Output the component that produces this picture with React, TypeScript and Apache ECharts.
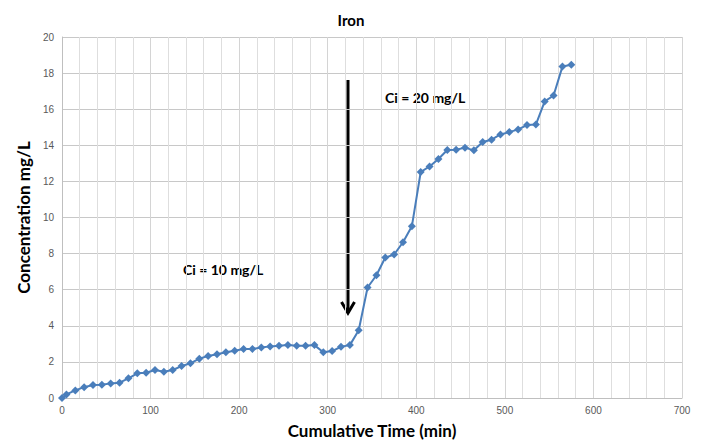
import React, { useEffect, useRef } from "react";
import * as echarts from "echarts";

const times = [0, 5, 15, 25, 35, 45, 55, 65, 75, 85, 95, 105, 115, 125, 135, 145, 155, 165, 175, 185, 195, 205, 215, 225, 235, 245, 255, 265, 275, 285, 295, 305, 315, 325, 335, 345, 355, 365, 375, 385, 395, 405, 415, 425, 435, 445, 455, 465, 475, 485, 495, 505, 515, 525, 535, 545, 555, 565, 575];
const concentration = [0, 0.2, 0.42, 0.6, 0.72, 0.74, 0.81, 0.85, 1.09, 1.37, 1.4, 1.55, 1.46, 1.55, 1.77, 1.92, 2.18, 2.33, 2.42, 2.53, 2.62, 2.72, 2.72, 2.8, 2.86, 2.89, 2.93, 2.89, 2.89, 2.93, 2.53, 2.6, 2.84, 2.93, 3.75, 6.12, 6.8, 7.78, 7.95, 8.63, 9.51, 12.52, 12.83, 13.24, 13.74, 13.75, 13.87, 13.72, 14.18, 14.31, 14.6, 14.73, 14.88, 15.12, 15.15, 16.43, 16.76, 18.36, 18.46];
const xTicks = [0, 100, 200, 300, 400, 500, 600, 700];
const yTicks = [0, 2, 4, 6, 8, 10, 12, 14, 16, 18, 20];
const annotations = ["Ci = 10 mg/L", "Ci = 20 mg/L"];

export default function App() {
  const ref = useRef<HTMLDivElement>(null);
  useEffect(() => {
    if (!ref.current) return;
    const chart = echarts.init(ref.current, undefined, { renderer: "svg" });
    const labelFont = "Liberation Sans, Arial, sans-serif";
    const boldFont = "Lato, 'Open Sans', sans-serif";
    chart.setOption({
      animation: false,
      backgroundColor: "#ffffff",
      title: {
        text: "Iron",
        left: "center",
        top: 7,
        textStyle: { fontFamily: boldFont, fontWeight: "bold", fontSize: 15, color: "#000" },
      },
      grid: { left: 62, right: 20, top: 37, bottom: 48, containLabel: false },
      xAxis: {
        type: "value",
        min: xTicks[0],
        max: xTicks[xTicks.length - 1],
        interval: 100,
        name: "Cumulative Time (min)",
        nameLocation: "middle",
        nameGap: 24,
        nameTextStyle: { fontFamily: boldFont, fontWeight: "bold", fontSize: 17, color: "#000" },
        axisLine: { show: true, lineStyle: { color: "#bfbfbf" } },
        axisTick: { show: false },
        axisLabel: { fontFamily: labelFont, fontSize: 10, color: "#595959", margin: 7 },
        splitLine: { show: true, lineStyle: { color: "#d4d4d4", width: 1 } },
        minorTick: { show: false, splitNumber: 5 },
        minorSplitLine: { show: true, lineStyle: { color: "#dedede", width: 1 } },
      },
      yAxis: {
        type: "value",
        min: yTicks[0],
        max: yTicks[yTicks.length - 1],
        interval: 2,
        name: "Concentration mg/L",
        nameLocation: "middle",
        nameGap: 26,
        nameTextStyle: { fontFamily: boldFont, fontWeight: "bold", fontSize: 17, color: "#000" },
        axisLine: { show: true, lineStyle: { color: "#bfbfbf" } },
        axisTick: { show: false },
        axisLabel: { fontFamily: labelFont, fontSize: 10, color: "#595959", margin: 8 },
        splitLine: { show: true, lineStyle: { color: "#c8c8c8", width: 1 } },
      },
      series: [
        {
          type: "line",
          data: times.map((t, i) => [t, concentration[i]]),
          symbol: "diamond",
          symbolSize: 8,
          lineStyle: { color: "#4a7ebb", width: 2 },
          itemStyle: { color: "#4a7ebb" },
        },
      ],
      graphic: [
        {
          type: "text",
          left: 183,
          top: 262,
          style: { text: annotations[0], font: "bold 14px Lato, 'Open Sans', sans-serif", fill: "#000" },
        },
        {
          type: "text",
          left: 385,
          top: 90,
          style: { text: annotations[1], font: "bold 14px Lato, 'Open Sans', sans-serif", fill: "#000" },
        },
        {
          type: "line",
          shape: { x1: 348, y1: 80, x2: 348, y2: 313 },
          style: { stroke: "#000", lineWidth: 3 },
        },
        {
          type: "polyline",
          shape: { points: [[341.5, 302], [348, 313], [354.5, 302]] },
          style: { stroke: "#000", lineWidth: 3, fill: null },
        },
      ],
    });
    return () => chart.dispose();
  }, []);
  return (
    <div
      ref={ref}
      style={{ position: "fixed", left: 0, top: 0, width: 702, height: 446, background: "#fff" }}
    />
  );
}
